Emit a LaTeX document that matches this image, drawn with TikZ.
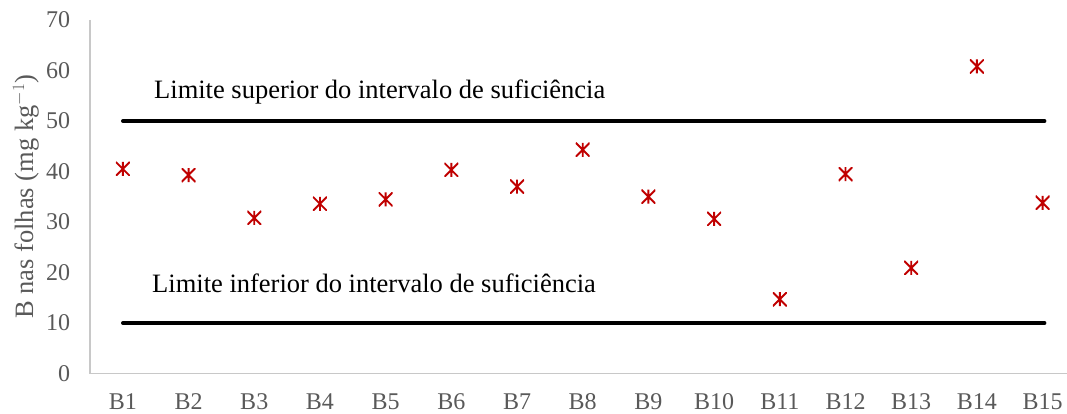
\documentclass[tikz,border=0pt]{standalone}
\usepackage{fontspec}
\setmainfont{Liberation Serif}
\usepackage{tikz}
\usetikzlibrary{calc}
\definecolor{tickgray}{HTML}{595959}
\definecolor{axisgray}{HTML}{C8C8C8}
\definecolor{datared}{HTML}{C00000}
\newcommand{\tickfont}{\fontsize{24}{28}\selectfont}
\newcommand{\notefont}{\fontsize{26.5}{30}\selectfont}
\tikzstyle{datum} = [rectangle, 
inner sep=0pt, 
minimum size=14pt, 
path picture={\draw [datared, line width=1.9pt] 
(path picture bounding box.north west) -- (path picture bounding box.south east)
(path picture bounding box.north east) -- (path picture bounding box.south west)
(path picture bounding box.north) -- (path picture bounding box.south);}]
\tikzstyle{ytick} = [anchor=east, inner sep=0pt, text=tickgray, font=\tickfont]
\tikzstyle{xtick} = [anchor=center, inner sep=0pt, text=tickgray, font=\tickfont]
\tikzstyle{note} = [anchor=base west, inner sep=0pt, font=\notefont]
\tikzstyle{limit} = [line width=3.6pt, line cap=round]
\tikzstyle{axis} = [axisgray, line width=1.5pt]

\begin{document}
\begin{tikzpicture} [x=65.7pt, y=5.05pt]

    \useasboundingbox (-1.370,-8.02) rectangle (14.871,73.96);

    % the axes
    \coordinate (O) at (0,0);
    \coordinate (Ytop) at (0,70);
    \coordinate (Xend) at (14.871,0);
    \draw [axis] (Ytop) -- (O) -- (Xend);

    \node (Y0) [ytick] at ($(O) + (-0.30,0)$) {0};
    \node (Y10) [ytick] at ($(O) + (-0.30,10)$) {10};
    \node (Y20) [ytick] at ($(O) + (-0.30,20)$) {20};
    \node (Y30) [ytick] at ($(O) + (-0.30,30)$) {30};
    \node (Y40) [ytick] at ($(O) + (-0.30,40)$) {40};
    \node (Y50) [ytick] at ($(O) + (-0.30,50)$) {50};
    \node (Y60) [ytick] at ($(O) + (-0.30,60)$) {60};
    \node (Y70) [ytick] at ($(O) + (-0.30,70)$) {70};

    \node (Ylab) [rotate=90, text=tickgray, font=\notefont, inner sep=0pt] at ($(O) + (-0.974,35)$) {B nas folhas (mg kg$^{-1}$)};

    \node (L1) [xtick] at ($(O) + (0.5,-5.6)$) {B1};
    \node (L2) [xtick] at ($(O) + (1.5,-5.6)$) {B2};
    \node (L3) [xtick] at ($(O) + (2.5,-5.6)$) {B3};
    \node (L4) [xtick] at ($(O) + (3.5,-5.6)$) {B4};
    \node (L5) [xtick] at ($(O) + (4.5,-5.6)$) {B5};
    \node (L6) [xtick] at ($(O) + (5.5,-5.6)$) {B6};
    \node (L7) [xtick] at ($(O) + (6.5,-5.6)$) {B7};
    \node (L8) [xtick] at ($(O) + (7.5,-5.6)$) {B8};
    \node (L9) [xtick] at ($(O) + (8.5,-5.6)$) {B9};
    \node (L10) [xtick] at ($(O) + (9.5,-5.6)$) {B10};
    \node (L11) [xtick] at ($(O) + (10.5,-5.6)$) {B11};
    \node (L12) [xtick] at ($(O) + (11.5,-5.6)$) {B12};
    \node (L13) [xtick] at ($(O) + (12.5,-5.6)$) {B13};
    \node (L14) [xtick] at ($(O) + (13.5,-5.6)$) {B14};
    \node (L15) [xtick] at ($(O) + (14.5,-5.6)$) {B15};

    % the sufficiency limits
    \coordinate (SupL) at (0.5,50);
    \coordinate (SupR) at (14.53,50);
    \coordinate (InfL) at (0.5,10);
    \coordinate (InfR) at (14.53,10);
    \draw [limit] (SupL) -- (SupR);
    \draw [limit] (InfL) -- (InfR);

    \node (SupNote) [note] at (0.974,54.36) {Limite superior do intervalo de suficiência};
    \node (InfNote) [note] at (0.944,15.94) {Limite inferior do intervalo de suficiência};

    % the leaf data
    \node (B1) [datum] at (0.5,40.5) {};
    \node (B2) [datum] at (1.5,39.3) {};
    \node (B3) [datum] at (2.5,30.8) {};
    \node (B4) [datum] at (3.5,33.6) {};
    \node (B5) [datum] at (4.5,34.5) {};
    \node (B6) [datum] at (5.5,40.3) {};
    \node (B7) [datum] at (6.5,37.0) {};
    \node (B8) [datum] at (7.5,44.3) {};
    \node (B9) [datum] at (8.5,35.0) {};
    \node (B10) [datum] at (9.5,30.6) {};
    \node (B11) [datum] at (10.5,14.7) {};
    \node (B12) [datum] at (11.5,39.5) {};
    \node (B13) [datum] at (12.5,20.9) {};
    \node (B14) [datum] at (13.5,60.8) {};
    \node (B15) [datum] at (14.5,33.8) {};

\end{tikzpicture}
\end{document}
